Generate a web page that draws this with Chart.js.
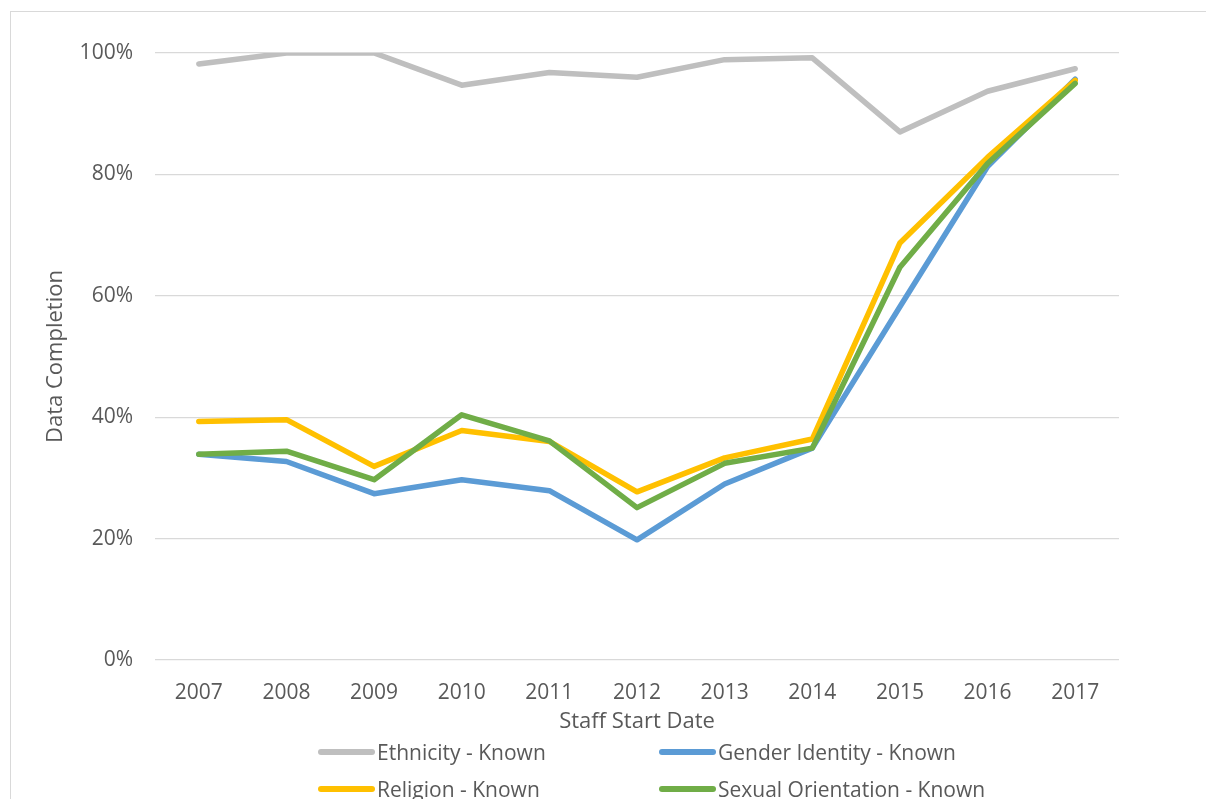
<!DOCTYPE html>
<html>
<head>
<meta charset="utf-8">
<script src="https://cdn.jsdelivr.net/npm/chart.js@4.4.1/dist/chart.umd.min.js"></script>
<style>
  html, body { margin: 0; padding: 0; background: #fff; overflow: hidden; }
  #wrap { position: relative; width: 1206px; height: 799px; overflow: hidden; }
  #frame { position: absolute; left: 10px; top: 11px; width: 1300px; height: 900px; border: 1px solid #d9d9d9; }
  #chart { position: absolute; left: 0; top: 0; }
  .leg { position: absolute; display: flex; align-items: center; font-family: "Open Sans", sans-serif; font-size: 21px; color: #595959; white-space: nowrap; }
  .leg span.swatch { display: inline-block; width: 57px; height: 6px; border-radius: 3px; margin-right: 2px; }
</style>
</head>
<body>
<div id="wrap">
  <div id="frame"></div>
  <canvas id="chart" width="1206" height="799"></canvas>
  <div id="legend"></div>
</div>
<script>
var years = ['2007', '2008', '2009', '2010', '2011', '2012', '2013', '2014', '2015', '2016', '2017'];
var seriesNames = ['Ethnicity - Known', 'Gender Identity - Known', 'Religion - Known', 'Sexual Orientation - Known'];
var ethnicity = [98.2, 100, 100, 94.7, 96.8, 96.0, 98.9, 99.2, 87.0, 93.7, 97.4];
var gender = [33.9, 32.7, 27.4, 29.7, 27.9, 19.8, 29.0, 34.9, 58.2, 81.3, 95.7];
var religion = [39.3, 39.6, 31.9, 37.8, 36.0, 27.7, 33.3, 36.4, 68.7, 82.8, 95.5];
var sexualOrientation = [33.9, 34.4, 29.7, 40.4, 36.1, 25.1, 32.4, 34.9, 64.7, 81.8, 95.0];
var yTicks = [0, 20, 40, 60, 80, 100];
var colors = ['#bfbfbf', '#5b9bd5', '#ffc000', '#70ad47'];

var font = '"Open Sans", sans-serif';
var textColor = '#595959';

function makeSet(i, values) {
  return {
    label: seriesNames[i],
    data: values,
    borderColor: colors[i],
    backgroundColor: colors[i],
    borderWidth: 5.5,
    borderCapStyle: 'round',
    borderJoinStyle: 'round',
    pointRadius: 0,
    pointHoverRadius: 0,
    tension: 0,
    fill: false,
    order: 4 - i
  };
}

var ctx = document.getElementById('chart').getContext('2d');
new Chart(ctx, {
  type: 'line',
  data: {
    labels: years,
    datasets: [
      makeSet(0, ethnicity),
      makeSet(1, gender),
      makeSet(2, religion),
      makeSet(3, sexualOrientation)
    ]
  },
  options: {
    responsive: false,
    animation: false,
    layout: { padding: { left: 0, right: 87, top: 53, bottom: 0 } },
    plugins: {
      legend: { display: false },
      tooltip: { enabled: false }
    },
    scales: {
      x: {
        offset: true,
        grid: { display: false },
        border: { display: false },
        ticks: { font: { family: font, size: 21 }, color: textColor, padding: 12, maxRotation: 0 },
        title: {
          display: true,
          text: 'Staff Start Date',
          font: { family: font, size: 22 },
          color: textColor,
          padding: { top: 0, bottom: 64 }
        },
        afterFit: function(scale) { scale.height = 139; }
      },
      y: {
        min: 0,
        max: 100,
        afterBuildTicks: function(scale) {
          scale.ticks = yTicks.map(function(v) { return { value: v }; });
        },
        grid: { color: '#d9d9d9', lineWidth: 1.3, drawTicks: false },
        border: { display: false },
        ticks: {
          font: { family: font, size: 21 },
          color: textColor,
          padding: 22,
          callback: function(v) { return v + '%'; }
        },
        title: {
          display: true,
          text: 'Data Completion',
          font: { family: font, size: 22 },
          color: textColor,
          padding: { top: 43, bottom: 0 }
        },
        afterFit: function(scale) { scale.width = 155; }
      }
    }
  }
});

// legend in two columns, as in the original
var legendPos = [[318, 752], [659, 752], [318, 789], [659, 789]];
var legend = document.getElementById('legend');
seriesNames.forEach(function(name, i) {
  var item = document.createElement('div');
  item.className = 'leg';
  item.style.left = legendPos[i][0] + 'px';
  item.style.top = (legendPos[i][1] - 15) + 'px';
  item.style.height = '30px';
  var sw = document.createElement('span');
  sw.className = 'swatch';
  sw.style.background = colors[i];
  item.appendChild(sw);
  item.appendChild(document.createTextNode(name));
  legend.appendChild(item);
});
</script>
</body>
</html>
